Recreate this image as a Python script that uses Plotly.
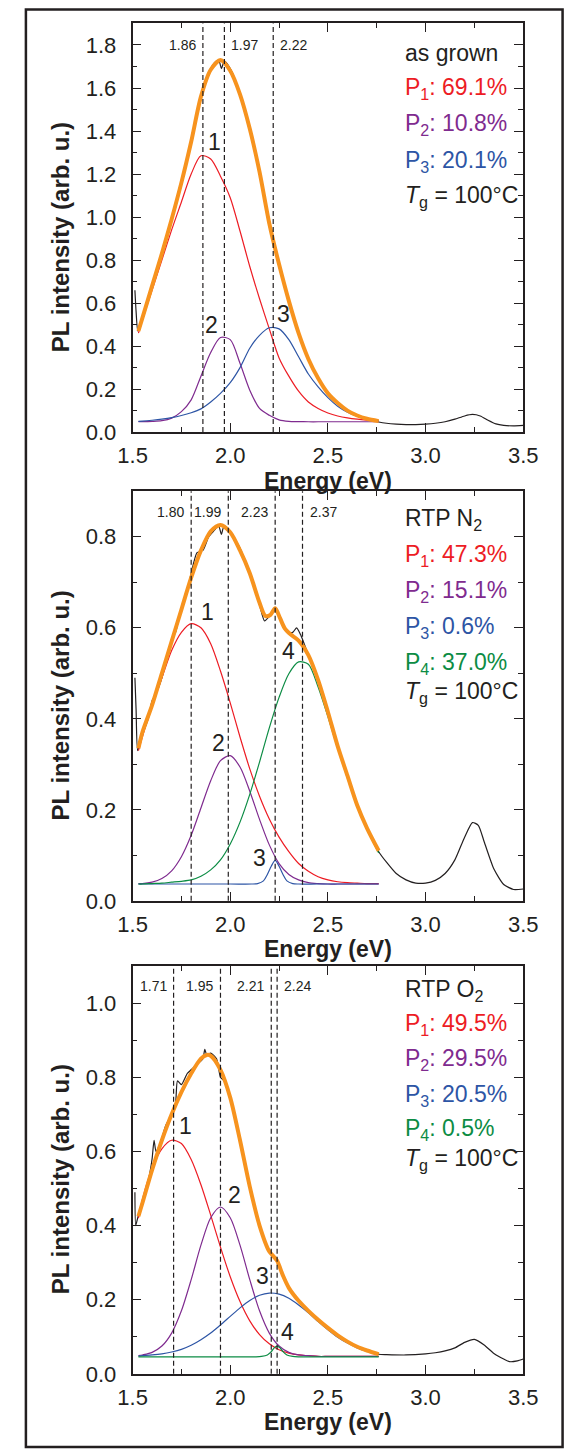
import plotly.graph_objects as go

W, H = 579, 1450
FONT = "Liberation Sans, Arial, Helvetica, sans-serif"
RED = '#ED1C24'; PURPLE = '#7F2B8F'; BLUE = '#2D55A5'; GREEN = '#0C8C44'
ORANGE = '#F7931E'; BLACK = '#231F20'

# ---------------- Panel 1: as grown ----------------
E1 = [1.53, 1.55, 1.6, 1.65, 1.7, 1.75, 1.8, 1.85, 1.9, 1.95, 2.0, 2.05, 2.1, 2.15, 2.2,
      2.25, 2.3, 2.35, 2.4, 2.45, 2.5, 2.55, 2.6, 2.65, 2.7, 2.76]
fit1 = [0.47, 0.53, 0.68, 0.83, 0.99, 1.16, 1.35, 1.56, 1.685, 1.73, 1.68, 1.57, 1.41, 1.21, 0.97,
        0.78, 0.61, 0.46, 0.34, 0.25, 0.18, 0.135, 0.10, 0.077, 0.062, 0.051]
p1_1 = [0.46, 0.52, 0.66, 0.80, 0.94, 1.07, 1.20, 1.285, 1.27, 1.19, 1.09, 0.935, 0.77, 0.62, 0.48,
        0.345, 0.26, 0.19, 0.14, 0.11, 0.089, 0.075, 0.066, 0.06, 0.056, 0.053]
p1_2 = [0.049, 0.049, 0.05, 0.053, 0.065, 0.095, 0.15, 0.26, 0.37, 0.44, 0.43, 0.32, 0.195, 0.11, 0.078,
        0.057, 0.05, 0.049, 0.048, 0.048, 0.048, 0.048, 0.048, 0.048, 0.048, 0.048]
p1_3 = [0.05, 0.051, 0.055, 0.06, 0.067, 0.077, 0.09, 0.108, 0.14, 0.18, 0.23, 0.30, 0.39, 0.45, 0.485,
        0.48, 0.43, 0.35, 0.27, 0.21, 0.16, 0.12, 0.092, 0.074, 0.062, 0.054]
raw1_x = [1.512, 1.518, 1.527, 1.55, 1.6, 1.65, 1.7, 1.75, 1.8, 1.85, 1.9, 1.93, 1.945, 1.955, 1.97,
          2.0, 2.05, 2.1, 2.15, 2.2, 2.22, 2.25, 2.3, 2.35, 2.4, 2.45, 2.5, 2.55, 2.6, 2.65, 2.7,
          2.76, 2.8, 2.85, 2.9, 2.95, 3.0, 3.05, 3.1, 3.15, 3.2, 3.24, 3.28, 3.32, 3.36, 3.4, 3.45, 3.5]
raw1_y = [0.66, 0.56, 0.47, 0.53, 0.685, 0.835, 0.995, 1.17, 1.355, 1.565, 1.69, 1.725, 1.72, 1.69, 1.725,
          1.69, 1.575, 1.41, 1.215, 0.985, 0.905, 0.785, 0.615, 0.465, 0.345, 0.252, 0.182, 0.134, 0.099, 0.076, 0.06,
          0.047, 0.041, 0.037, 0.035, 0.035, 0.037, 0.041, 0.048, 0.06, 0.075, 0.082, 0.075, 0.055, 0.038, 0.031, 0.029, 0.031]

# ---------------- Panel 2: RTP N2 ----------------
E2 = E1
fit2_x = [1.53, 1.55, 1.6, 1.65, 1.7, 1.75, 1.8, 1.85, 1.9, 1.95, 2.0, 2.05, 2.1, 2.15, 2.18, 2.205,
          2.23, 2.255, 2.28, 2.31, 2.35, 2.4, 2.45, 2.5, 2.55, 2.6, 2.65, 2.7, 2.76]
fit2 = [0.335, 0.37, 0.43, 0.50, 0.57, 0.64, 0.71, 0.77, 0.812, 0.826, 0.81, 0.77, 0.72, 0.655, 0.626, 0.628,
        0.643, 0.621, 0.598, 0.585, 0.572, 0.54, 0.485, 0.415, 0.34, 0.275, 0.21, 0.16, 0.11]
p2_1 = [0.33, 0.36, 0.43, 0.49, 0.55, 0.59, 0.609, 0.60, 0.565, 0.505, 0.435, 0.36, 0.29, 0.23, 0.18,
        0.14, 0.108, 0.082, 0.065, 0.053, 0.046, 0.042, 0.04, 0.039, 0.038, 0.038]
p2_2 = [0.038, 0.038, 0.041, 0.049, 0.066, 0.097, 0.144, 0.204, 0.264, 0.308, 0.319, 0.294, 0.241, 0.179, 0.123,
        0.082, 0.058, 0.046, 0.04, 0.038, 0.037, 0.037, 0.037, 0.037, 0.037, 0.037]
p2_3_x = [1.53, 2.0, 2.11, 2.14, 2.17, 2.19, 2.21, 2.23, 2.25, 2.27, 2.29, 2.32, 2.35, 2.45, 2.76]
p2_3 = [0.037, 0.037, 0.037, 0.038, 0.044, 0.058, 0.076, 0.089, 0.076, 0.058, 0.044, 0.038, 0.037, 0.037, 0.037]
p2_4 = [0.037, 0.037, 0.038, 0.039, 0.041, 0.043, 0.046, 0.054, 0.068, 0.09, 0.125, 0.173, 0.234, 0.305, 0.38,
        0.447, 0.499, 0.525, 0.52, 0.47, 0.405, 0.335, 0.27, 0.207, 0.158, 0.105]
raw2_x = [1.512, 1.518, 1.526, 1.55, 1.58, 1.6, 1.62, 1.65, 1.7, 1.72, 1.75, 1.78, 1.8, 1.83, 1.86, 1.89,
          1.92, 1.94, 1.955, 1.965, 1.98, 2.0, 2.03, 2.05, 2.1, 2.15, 2.176, 2.2, 2.23, 2.26, 2.29, 2.32,
          2.34, 2.36, 2.4, 2.45, 2.5, 2.55, 2.6, 2.65, 2.7, 2.76, 2.8, 2.85, 2.9, 2.95, 3.0, 3.05, 3.1,
          3.15, 3.2, 3.24, 3.27, 3.3, 3.35, 3.4, 3.45, 3.5]
raw2_y = [0.49, 0.42, 0.33, 0.365, 0.40, 0.44, 0.455, 0.49, 0.575, 0.59, 0.645, 0.68, 0.72, 0.765, 0.77, 0.80,
          0.815, 0.825, 0.805, 0.82, 0.818, 0.81, 0.79, 0.775, 0.72, 0.65, 0.615, 0.625, 0.64, 0.62, 0.59, 0.59,
          0.60, 0.585, 0.54, 0.485, 0.415, 0.34, 0.275, 0.21, 0.16, 0.108, 0.085, 0.06, 0.046, 0.039, 0.039, 0.045, 0.06,
          0.09, 0.14, 0.172, 0.166, 0.13, 0.07, 0.036, 0.025, 0.026]

# ---------------- Panel 3: RTP O2 ----------------
E3 = E1
fit3_x = [1.53, 1.55, 1.6, 1.65, 1.7, 1.75, 1.8, 1.85, 1.88, 1.9, 1.95, 2.0, 2.05, 2.1, 2.15, 2.2,
          2.22, 2.24, 2.27, 2.3, 2.35, 2.4, 2.45, 2.5, 2.55, 2.6, 2.65, 2.7, 2.76]
fit3 = [0.425, 0.46, 0.55, 0.63, 0.70, 0.76, 0.81, 0.85, 0.86, 0.858, 0.82, 0.745, 0.63, 0.505, 0.40, 0.33,
        0.318, 0.305, 0.265, 0.232, 0.197, 0.17, 0.146, 0.124, 0.104, 0.087, 0.073, 0.063, 0.053]
p3_1 = [0.42, 0.47, 0.554, 0.607, 0.63, 0.621, 0.578, 0.51, 0.428, 0.342, 0.262, 0.195, 0.143, 0.106, 0.081,
        0.065, 0.056, 0.051, 0.049, 0.047, 0.047, 0.047, 0.047, 0.047, 0.047, 0.047]
p3_2 = [0.049, 0.051, 0.058, 0.075, 0.11, 0.17, 0.254, 0.347, 0.421, 0.45, 0.421, 0.347, 0.254, 0.17, 0.11,
        0.075, 0.058, 0.051, 0.049, 0.047, 0.047, 0.047, 0.047, 0.047, 0.047, 0.047]
p3_3 = [0.048, 0.049, 0.051, 0.054, 0.059, 0.066, 0.077, 0.092, 0.11, 0.132, 0.155, 0.178, 0.198, 0.212, 0.218,
        0.215, 0.204, 0.186, 0.165, 0.141, 0.119, 0.099, 0.083, 0.07, 0.061, 0.055]
p3_4_x = [1.53, 2.0, 2.13, 2.16, 2.19, 2.21, 2.225, 2.24, 2.255, 2.27, 2.29, 2.32, 2.35, 2.5, 2.76]
p3_4 = [0.046, 0.046, 0.046, 0.047, 0.051, 0.06, 0.07, 0.075, 0.07, 0.06, 0.051, 0.047, 0.046, 0.046, 0.046]
raw3_x = [1.512, 1.516, 1.526, 1.55, 1.58, 1.6, 1.61, 1.62, 1.64, 1.67, 1.7, 1.72, 1.73, 1.75, 1.78, 1.8,
          1.83, 1.86, 1.87, 1.88, 1.9, 1.93, 1.95, 1.97, 2.0, 2.05, 2.1, 2.15, 2.2, 2.24, 2.3, 2.4, 2.5,
          2.6, 2.7, 2.76, 2.8, 2.9, 3.0, 3.05, 3.1, 3.15, 3.2, 3.25, 3.3, 3.35, 3.4, 3.43, 3.47, 3.5]
raw3_y = [0.49, 0.40, 0.42, 0.465, 0.52, 0.58, 0.63, 0.60, 0.62, 0.67, 0.70, 0.73, 0.79, 0.78, 0.81, 0.82,
          0.835, 0.85, 0.875, 0.86, 0.865, 0.85, 0.80, 0.79, 0.745, 0.63, 0.505, 0.40, 0.33, 0.305, 0.232, 0.17, 0.124,
          0.087, 0.063, 0.053, 0.052, 0.051, 0.054, 0.057, 0.062, 0.07, 0.085, 0.093, 0.078, 0.055, 0.04, 0.033, 0.035, 0.04]

# peak positions (dashed lines) and labels
peaks1 = [1.86, 1.97, 2.22]
peaks2 = [1.80, 1.99, 2.23, 2.37]
peaks3 = [1.71, 1.95, 2.21, 2.24]
peak_lbl1 = ['1.86', '1.97', '2.22']
peak_lbl2 = ['1.80', '1.99', '2.23', '2.37']
peak_lbl3 = ['1.71', '1.95', '2.21', '2.24']
side1 = ['left', 'right', 'right']
side2 = ['left', 'left', 'left', 'right']
side3 = ['left', 'left', 'left', 'right']

titles = ['as grown', 'RTP N<sub>2</sub>', 'RTP O<sub>2</sub>']
shares1 = ['69.1%', '10.8%', '20.1%']
shares2 = ['47.3%', '15.1%', '0.6%', '37.0%']
shares3 = ['49.5%', '29.5%', '20.5%', '0.5%']
COLORS = [RED, PURPLE, BLUE, GREEN]

# number labels (E, intensity)
num1 = [(1.917, 1.347), (1.906, 0.50), (2.273, 0.548)]
num2 = [(1.885, 0.635), (1.938, 0.347), (2.152, 0.094), (2.298, 0.549)]
num3 = [(1.772, 0.669), (2.023, 0.483), (2.163, 0.265), (2.294, 0.114)]

panels = [
    dict(top=23.7, bot=436.0, yr=[0, 1.9], lbl_v=1.80,
         raw=(raw1_x, raw1_y), fit=(E1, fit1),
         comps=[(E1, p1_1), (E1, p1_2), (E1, p1_3)],
         peaks=peaks1, plbl=peak_lbl1, side=side1, shares=shares1, nums=num1,
         base=[61, 97.5, 134, 170.5, 206.5]),
    dict(top=495.7, bot=909.0, yr=[0, 0.9], lbl_v=0.855,
         raw=(raw2_x, raw2_y), fit=(fit2_x, fit2),
         comps=[(E2, p2_1), (E2, p2_2), (p2_3_x, p2_3), (E2, p2_4)],
         peaks=peaks2, plbl=peak_lbl2, side=side2, shares=shares2, nums=num2,
         base=[532, 569, 605, 641, 677, 707]),
    dict(top=974.7, bot=1386.3, yr=[0, 1.1], lbl_v=1.047,
         raw=(raw3_x, raw3_y), fit=(fit3_x, fit3),
         comps=[(E3, p3_1), (E3, p3_2), (E3, p3_3), (p3_4_x, p3_4)],
         peaks=peaks3, plbl=peak_lbl3, side=side3, shares=shares3, nums=num3,
         base=[1007, 1042, 1077, 1113, 1148, 1178]),
]

def fx(p):
    return p / W

def fy(p):
    return 1 - p / H

XDOM = [fx(124), fx(536)]
fig = go.Figure()
shapes = []
annots = []

for i, p in enumerate(panels):
    sfx = '' if i == 0 else str(i + 1)
    xa, ya = 'x' + sfx, 'y' + sfx
    fig.add_trace(go.Scatter(x=p['raw'][0], y=p['raw'][1], mode='lines', xaxis=xa, yaxis=ya,
                             line=dict(color=BLACK, width=1.2, shape='spline', smoothing=0.6),
                             hoverinfo='skip'))
    for k, (cx, cy) in enumerate(p['comps']):
        fig.add_trace(go.Scatter(x=cx, y=cy, mode='lines', xaxis=xa, yaxis=ya,
                                 line=dict(color=COLORS[k], width=1.2, shape='spline', smoothing=0.8),
                                 hoverinfo='skip'))
    fig.add_trace(go.Scatter(x=p['fit'][0], y=p['fit'][1], mode='lines', xaxis=xa, yaxis=ya,
                             line=dict(color=ORANGE, width=4, shape='spline', smoothing=0.8),
                             hoverinfo='skip'))

    common = dict(ticks='inside', ticklen=9, tickwidth=1.4, tickcolor=BLACK, mirror='ticks',
                  showline=True, linewidth=1.8, linecolor=BLACK, showgrid=False, zeroline=False,
                  tickfont=dict(size=22, family=FONT, color=BLACK))
    fig.update_layout(**{
        'xaxis' + sfx: dict(domain=XDOM, anchor=ya, range=[1.5, 3.5], tick0=1.5, dtick=0.5,
                            tickformat='.1f', ticklabelstandoff=3,
                            minor=dict(ticks='inside', ticklen=5, tickwidth=1.4, tickcolor=BLACK,
                                       tick0=1.5, dtick=0.25, showgrid=False), **common),
        'yaxis' + sfx: dict(domain=[fy(p['bot']), fy(p['top'])], anchor=xa, range=p['yr'],
                            tick0=0, dtick=0.2, tickformat='.1f', ticklabelstandoff=10,
                            minor=dict(ticks='inside', ticklen=5, tickwidth=1.4, tickcolor=BLACK,
                                       tick0=0, dtick=0.1, showgrid=False), **common),
    })

    # dashed peak lines and their labels
    for e, lab, sd in zip(p['peaks'], p['plbl'], p['side']):
        shapes.append(dict(type='line', xref=xa, yref=ya + ' domain', x0=e, x1=e, y0=0, y1=1,
                           line=dict(color=BLACK, width=1.2, dash='5px,3px'), layer='above'))
        annots.append(dict(xref=xa, yref=ya, x=e, y=p['lbl_v'], text=lab, showarrow=False,
                           xanchor='right' if sd == 'left' else 'left',
                           xshift=-5 if sd == 'left' else 5,
                           font=dict(size=14, family=FONT, color=BLACK)))
    # peak numbers
    for k, (e, v) in enumerate(p['nums']):
        annots.append(dict(xref=xa, yref=ya, x=e, y=v, text=str(k + 1), showarrow=False,
                           font=dict(size=23, family=FONT, color=BLACK)))
    # info block
    lines = [(titles[i], BLACK)]
    for k, s in enumerate(p['shares']):
        lines.append(('P<sub>%d</sub>: %s' % (k + 1, s), COLORS[k]))
    lines.append(('<i>T</i><sub>g</sub> = 100°C', BLACK))
    for (txt, col), b in zip(lines, p['base']):
        annots.append(dict(xref='paper', yref='paper', x=fx(409), y=fy(b - 8), text=txt,
                           showarrow=False, xanchor='left', yanchor='middle',
                           font=dict(size=23, family=FONT, color=col)))
    # axis titles
    annots.append(dict(xref='paper', yref='paper', x=fx(330), y=fy(p['bot'] + 49),
                       text='<b>Energy (eV)</b>', showarrow=False, xanchor='center', yanchor='middle',
                       font=dict(size=23, family=FONT, color=BLACK)))
    annots.append(dict(xref='paper', yref='paper', x=fx(48), y=fy((p['top'] + p['bot']) / 2 + 10),
                       text='<b>PL intensity (arb. u.)</b>', showarrow=False, textangle=-90,
                       xanchor='center', yanchor='middle',
                       font=dict(size=24, family=FONT, color=BLACK)))

# outer frame
shapes.append(dict(type='rect', xref='paper', yref='paper', x0=fx(11.5), x1=fx(577.5),
                   y0=fy(1460), y1=fy(9.5), line=dict(color=BLACK, width=2.5)))

fig.update_layout(width=W, height=H, margin=dict(l=0, r=0, t=0, b=0), showlegend=False,
                  paper_bgcolor='white', plot_bgcolor='white', shapes=shapes, annotations=annots,
                  font=dict(family=FONT, color=BLACK))
fig.write_html("out.html", config={'displayModeBar': False})
